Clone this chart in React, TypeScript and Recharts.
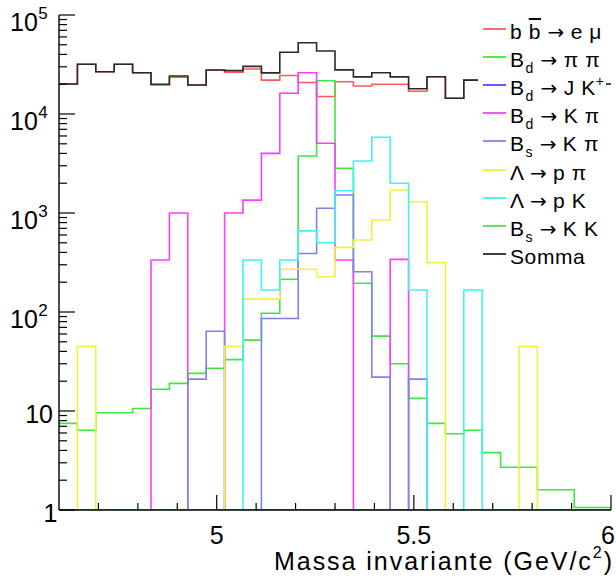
import React from 'react';
import { ComposedChart, Line, XAxis, YAxis, Legend } from 'recharts';

// Histogram binning: 30 bins from 4.6 to 6.0 GeV/c^2
const X_MIN = 4.6;
const X_MAX = 6.0;
const N_BINS = 30;

// Bin contents (entries per bin). 0 = empty bin.
const bbEmu = [20100, 31800, 26700, 31800, 26100, 19600, 23500, 19600, 27800, 26400, 28500, 22000, 24500, 20800, 15000, 21200, 19200, 20000, 20000, 17000, 23800, 14400, 22000, 21000, 19500, 20500, 18500, 21000, 19000, 20000];
const bdPiPi = [7.5, 6.4, 9.6, 9.6, 10.6, 16.6, 19, 24, 27, 33, 52, 97, 214, 3770, 21700, 2830, 195, 57, 30, 13.4, 7.5, 5.9, 6.4, 3.8, 2.7, 2.7, 1.6, 1.6, 1.06, 1.06];
const bdJK = [0, 0, 0, 0, 0, 0, 0, 0, 0, 0, 0, 0, 0, 0, 0, 0, 0, 0, 0, 0, 0, 0, 0, 0, 0, 0, 0, 0, 0, 0];
const bdKPi = [0, 0, 0, 0, 0, 335, 1000, 0, 0, 1000, 1350, 4000, 16200, 26100, 5060, 335, 0, 0, 340, 0, 0, 0, 0, 0, 0, 0, 0, 0, 0, 0];
const bsKPi = [0, 0, 0, 0, 0, 0, 0, 21, 64, 0, 0, 86, 86, 390, 1115, 1520, 255, 22, 0, 21, 0, 0, 0, 0, 0, 0, 0, 0, 0, 0];
const lambdaPPi = [0, 45, 0, 0, 0, 0, 0, 0, 0, 45, 135, 135, 270, 270, 227, 450, 534, 850, 1710, 1300, 315, 0, 0, 0, 0, 45, 0, 0, 0, 0];
const lambdaPK = [0, 0, 0, 0, 0, 0, 0, 0, 0, 0, 335, 167, 335, 660, 500, 1680, 3350, 5820, 2000, 167, 0, 0, 167, 0, 0, 0, 0, 0, 0, 0];
const bsKK = [0, 0, 0, 0, 0, 0, 0, 0, 0, 0, 0, 0, 0, 0, 0, 0, 0, 0, 0, 0, 0, 0, 0, 0, 0, 0, 0, 0, 0, 0];
const somma = [20100, 31800, 26700, 31800, 26100, 20000, 24200, 19600, 27800, 27400, 30300, 26000, 42000, 52500, 43300, 27900, 23700, 26100, 23700, 18000, 23800, 14400, 22000, 21200, 19700, 20600, 18700, 21100, 19100, 20100];

// Axis ticks
const xTicks = [4.7, 4.8, 4.9, 5, 5.1, 5.2, 5.3, 5.4, 5.5, 5.6, 5.7, 5.8, 5.9, 6];
const xMajor = [5, 5.5, 6];
const xMajorLabels = ['5', '5.5', '6'];
const yDecades = [1, 10, 100, 1000, 10000, 100000];
const yDecadeBase = ['1', '10', '10', '10', '10', '10'];
const yDecadeExp = ['', '', '2', '3', '4', '5'];
const yMinorSteps = [2, 3, 4, 5, 6, 7, 8, 9];

const FONT = '"Liberation Sans", Arial, Helvetica, sans-serif';

type Series = { key: string; color: string; values: number[]; label: React.ReactNode };

const Sub = ({ children }: { children: React.ReactNode }) => (
  <span style={{ fontSize: 14, position: 'relative', top: 6, marginLeft: 1 }}>{children}</span>
);
const Sup = ({ children }: { children: React.ReactNode }) => (
  <span style={{ fontSize: 14, position: 'relative', top: -9 }}>{children}</span>
);
const Arrow = () => (
  <span style={{ fontFamily: '"DejaVu Sans", sans-serif', fontSize: 20, letterSpacing: 0 }}>→</span>
);

const series: Series[] = [
  { key: 'bbEmu', color: '#ff5a5a', values: bbEmu, label: <>b <span style={{ textDecoration: 'overline' }}>b</span> <Arrow /> e μ</> },
  { key: 'bdPiPi', color: '#3ee83e', values: bdPiPi, label: <>B<Sub>d</Sub> <Arrow /> π π</> },
  { key: 'bdJK', color: '#4a4aff', values: bdJK, label: <>B<Sub>d</Sub> <Arrow /> J K<Sup>+</Sup></> },
  { key: 'bdKPi', color: '#ff3cff', values: bdKPi, label: <>B<Sub>d</Sub> <Arrow /> K π</> },
  { key: 'bsKPi', color: '#8080ee', values: bsKPi, label: <>B<Sub>s</Sub> <Arrow /> K π</> },
  { key: 'lambdaPPi', color: '#f2f23a', values: lambdaPPi, label: <>Λ <Arrow /> p π</> },
  { key: 'lambdaPK', color: '#3cf4f4', values: lambdaPK, label: <>Λ <Arrow /> p K</> },
  { key: 'bsKK', color: '#52e052', values: bsKK, label: <>B<Sub>s</Sub> <Arrow /> K K</> },
  { key: 'somma', color: '#2a2a2a', values: somma, label: <>Somma</> },
];

// Build the step-histogram table (bin low edges + closing edge); empty bins sit on the axis floor (1)
const width = (X_MAX - X_MIN) / N_BINS;
const data = Array.from({ length: N_BINS + 1 }, (_, k) => {
  const row: Record<string, number> = { x: X_MIN + k * width };
  const idx = Math.min(k, N_BINS - 1);
  series.forEach((s) => {
    row[s.key] = Math.max(s.values[idx], 1);
  });
  return row;
});

const yTicks: number[] = [];
yDecades.forEach((d, i) => {
  yTicks.push(d);
  if (i < yDecades.length - 1) yMinorSteps.forEach((m) => yTicks.push(d * m));
});

const isX = (v: number, list: number[]) => list.findIndex((m) => Math.abs(m - v) < 1e-6);
const isY = (v: number) => yDecades.findIndex((m) => Math.abs(m - v) / m < 1e-6);

const BottomTick = (props: any) => {
  const { x, y, payload } = props;
  const mi = isX(payload.value, xMajor);
  const last = mi === xMajor.length - 1;
  return (
    <g>
      <line x1={x} x2={x} y1={y} y2={y - (mi >= 0 ? 15 : 7)} stroke="#000" strokeWidth={1.2} />
      {mi >= 0 && (
        <text
          x={last ? x + 4 : x}
          y={y + 34}
          textAnchor={last ? 'end' : 'middle'}
          fontSize={25}
          fontFamily={FONT}
          fill="#000"
        >
          {xMajorLabels[mi]}
        </text>
      )}
    </g>
  );
};

const TopTick = (props: any) => {
  const { x, y, payload } = props;
  const mi = isX(payload.value, xMajor);
  return <line x1={x} x2={x} y1={y} y2={y + (mi >= 0 ? 15 : 7)} stroke="#000" strokeWidth={1.2} />;
};

const LeftTick = (props: any) => {
  const { x, y, payload } = props;
  const di = isY(payload.value);
  const major = di >= 0;
  return (
    <g>
      <line x1={x} x2={x + (major ? 16 : 8)} y1={y} y2={y} stroke="#000" strokeWidth={1.2} />
      {major && di === 0 && (
        <text x={x - 1.5} y={y + 11.5} textAnchor="end" fontSize={25} fontFamily={FONT} fill="#000">
          {yDecadeBase[di]}
        </text>
      )}
      {major && di === 1 && (
        <text x={x - 6} y={y + 12.3} textAnchor="end" fontSize={25} fontFamily={FONT} fill="#000">
          {yDecadeBase[di]}
        </text>
      )}
      {major && di >= 2 && (
        <text x={x - 49} y={y + 16} textAnchor="start" fontSize={25} fontFamily={FONT} fill="#000">
          {yDecadeBase[di]}
          <tspan fontSize={17} dy={-12} dx={0.5}>{yDecadeExp[di]}</tspan>
        </text>
      )}
    </g>
  );
};

const RightTick = (props: any) => {
  const { x, y, payload } = props;
  const major = isY(payload.value) >= 0;
  return <line x1={x} x2={x - (major ? 16 : 8)} y1={y} y2={y} stroke="#000" strokeWidth={1.2} />;
};

const XTitle = (props: any) => {
  const vb = props.viewBox || {};
  const right = (vb.x || 0) + (vb.width || 0);
  return (
    <text
      x={right + 1}
      y={(vb.y || 0) + 60}
      textAnchor="end"
      fontSize={25}
      fontFamily={FONT}
      fill="#000"
      textLength={338}
      lengthAdjust="spacing"
    >
      Massa invariante (GeV/c<tspan fontSize={16} dy={-12}>2</tspan>
      <tspan dy={12}>)</tspan>
    </text>
  );
};

const LegendBox = () => (
  <div
    style={{
      background: '#fff',
      width: 128,
      height: 254,
      fontFamily: FONT,
      fontSize: 21,
      color: '#000',
    }}
  >
    {series.map((s) => (
      <div key={s.key} style={{ height: 28.1, display: 'flex', alignItems: 'center', whiteSpace: 'nowrap' }}>
        <svg width={32} height={6} style={{ display: 'block', flex: '0 0 32px' }}>
          <line x1={5} x2={28} y1={3} y2={3} stroke={s.color} strokeWidth={1.8} />
        </svg>
        <div style={{ position: 'relative', top: 3, letterSpacing: 0.6 }}>{s.label}</div>
      </div>
    ))}
  </div>
);

export default function App() {
  return (
    <div style={{ position: 'absolute', left: 0, top: 0, background: '#fff' }}>
      <ComposedChart
        width={616}
        height={582}
        data={data}
        margin={{ top: 15, right: 5, bottom: 0, left: 0 }}
      >
        <XAxis
          xAxisId="b"
          dataKey="x"
          type="number"
          domain={[X_MIN, X_MAX]}
          allowDataOverflow
          ticks={xTicks}
          interval={0}
          height={72}
          tickSize={0}
          tickMargin={0}
          tickLine={false}
          tick={<BottomTick />}
          axisLine={{ stroke: '#000', strokeWidth: 1.4 }}
          label={<XTitle />}
        />
        <XAxis
          xAxisId="t"
          dataKey="x"
          type="number"
          orientation="top"
          domain={[X_MIN, X_MAX]}
          allowDataOverflow
          ticks={xTicks}
          interval={0}
          height={0}
          tickSize={0}
          tickMargin={0}
          tickLine={false}
          tick={<TopTick />}
          axisLine={{ stroke: '#000', strokeWidth: 1.4 }}
        />
        <YAxis
          yAxisId="l"
          scale="log"
          domain={[1, 100000]}
          allowDataOverflow
          ticks={yTicks}
          interval={0}
          width={59}
          tickSize={0}
          tickMargin={0}
          tickLine={false}
          tick={<LeftTick />}
          axisLine={{ stroke: '#000', strokeWidth: 1.4 }}
        />
        <YAxis
          yAxisId="r"
          orientation="right"
          scale="log"
          domain={[1, 100000]}
          allowDataOverflow
          ticks={yTicks}
          interval={0}
          width={0}
          tickSize={0}
          tickMargin={0}
          tickLine={false}
          tick={<RightTick />}
          axisLine={{ stroke: '#000', strokeWidth: 1.4 }}
        />
        {series.map((s) => (
          <Line
            key={s.key}
            xAxisId="b"
            yAxisId="l"
            dataKey={s.key}
            type="stepAfter"
            stroke={s.color}
            strokeWidth={1.6}
            dot={false}
            activeDot={false}
            isAnimationActive={false}
            legendType="none"
          />
        ))}
        <Legend
          layout="vertical"
          align="center"
          verticalAlign="middle"
          content={() => <LegendBox />}
          wrapperStyle={{ left: 478, top: 15, width: 128, height: 254 }}
        />
      </ComposedChart>
    </div>
  );
}
